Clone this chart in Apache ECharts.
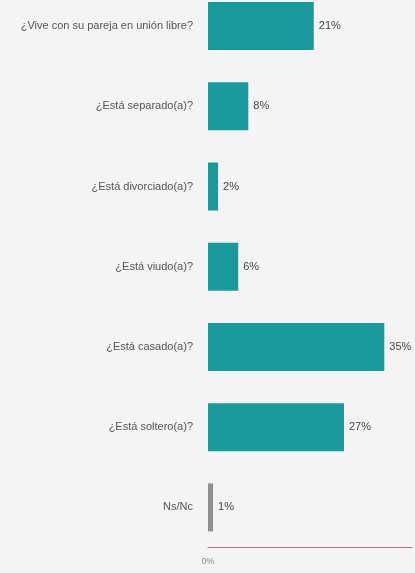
<!DOCTYPE html>
<html><head><meta charset="utf-8">
<script src="https://cdn.jsdelivr.net/npm/echarts@6/dist/echarts.min.js"></script>
<style>html,body{margin:0;padding:0;background:#f4f4f4;overflow:hidden}#c{position:absolute;left:0;top:-14px;width:415px;height:587px}</style>
</head><body><div id="c"></div>
<script>
const categories = ["¿Vive con su pareja en unión libre?", "¿Está separado(a)?", "¿Está divorciado(a)?", "¿Está viudo(a)?", "¿Está casado(a)?", "¿Está soltero(a)?", "Ns/Nc"];
const values = [21, 8, 2, 6, 35, 27, 1];
const barColors = ["#1a9a9c", "#1a9a9c", "#1a9a9c", "#1a9a9c", "#1a9a9c", "#1a9a9c", "#909090"];
const xTickLabels = ["0%"];

const chart = echarts.init(document.getElementById('c'));
chart.setOption({
  backgroundColor: '#f4f4f4',
  animation: false,
  grid: { left: 208, right: 0, top: 0, bottom: 25.5, containLabel: false },
  xAxis: {
    type: 'value', min: 0, max: 40.5, interval: 40.5,
    axisLine: { show: true, lineStyle: { color: '#b0708f', width: 1 } },
    axisTick: { show: false },
    splitLine: { show: false },
    axisLabel: { color: '#888', fontSize: 9, fontFamily: 'Liberation Sans', margin: 10,
      formatter: v => v === 0 ? xTickLabels[0] : '' }
  },
  yAxis: {
    type: 'category', data: categories, inverse: true,
    axisLine: { show: false }, axisTick: { show: false },
    axisLabel: { color: '#555', fontSize: 11, fontFamily: 'Liberation Sans', margin: 15 }
  },
  series: [{
    type: 'bar', barWidth: 48,
    data: values.map((v, i) => ({ value: v, itemStyle: { color: barColors[i] } })),
    label: { show: true, position: 'right', distance: 5, color: '#444', fontSize: 11,
      fontFamily: 'Liberation Sans', formatter: p => p.value + '%' }
  }]
});
</script></body></html>
